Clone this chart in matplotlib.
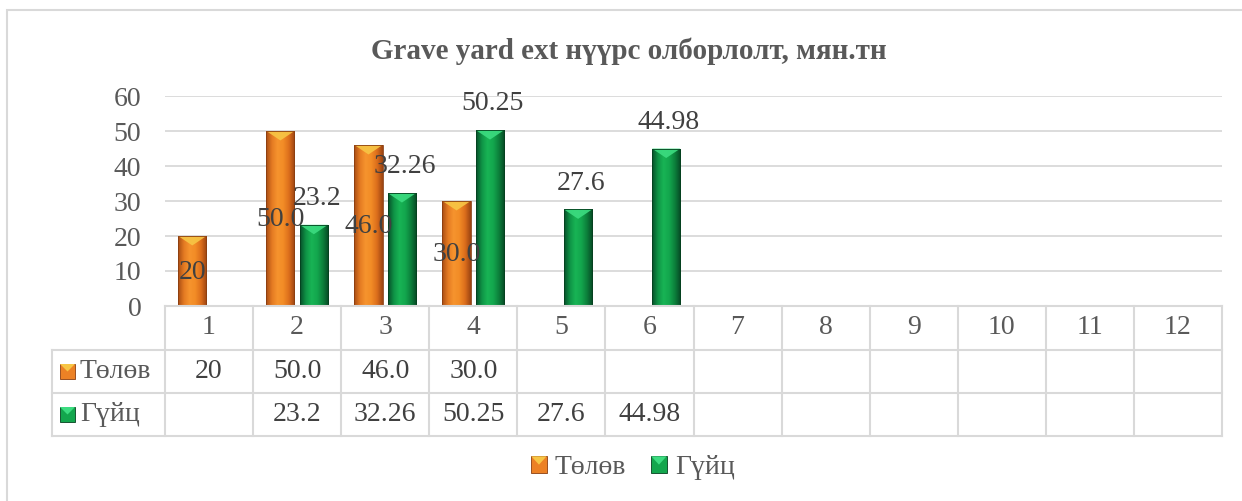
import matplotlib
matplotlib.use("Agg")
import matplotlib.pyplot as plt
import numpy as np
from matplotlib.colors import LinearSegmentedColormap
from matplotlib.patches import Rectangle, Polygon, Patch
from matplotlib.lines import Line2D
from matplotlib.transforms import blended_transform_factory
from matplotlib.legend_handler import HandlerPatch

plt.rcParams['font.family'] = ['Liberation Serif', 'DejaVu Serif']

# ---------------- data ----------------
title = "Grave yard ext нүүрс олборлолт, мян.тн"
categories = ["1", "2", "3", "4", "5", "6", "7", "8", "9", "10", "11", "12"]
series_names = ["Төлөв", "Гүйц"]
tolov = [20, 50.0, 46.0, 30.0, None, None, None, None, None, None, None, None]
tolov_text = ["20", "50.0", "46.0", "30.0", "", "", "", "", "", "", "", ""]
guits = [None, 23.2, 32.26, 50.25, 27.6, 44.98, None, None, None, None, None, None]
guits_text = ["", "23.2", "32.26", "50.25", "27.6", "44.98", "", "", "", "", "", ""]
yticks = [0, 10, 20, 30, 40, 50, 60]

# ---------------- layout ----------------
W, H = 1242, 501
fig = plt.figure(figsize=(W / 100, H / 100), dpi=100)
fig.patch.set_facecolor("white")

def fx(x):
    return x / W

def fy(y):
    return 1 - y / H

L, R, T, B = 165, 1222, 96, 306
ax = fig.add_axes([fx(L), fy(B), (R - L) / W, (B - T) / H])
ax.set_xlim(0.5, 12.5)
ax.set_ylim(0, 60)
for s in ax.spines.values():
    s.set_visible(False)
ax.set_xticks([])
ax.set_yticks(yticks)
ax.tick_params(axis="y", length=0, pad=17, labelsize=20, labelcolor="#595959")
ax.yaxis.grid(True, color="#d9d9d9", linewidth=1.3)
ax.set_axisbelow(True)

grid_c = "#d9d9d9"
txt_c = "#595959"
lab_c = "#404040"

# chart border
fig.add_artist(Rectangle((fx(7), fy(560)), fx(1300), 550 / H,
                         transform=fig.transFigure, fill=False,
                         edgecolor="#d9d9d9", linewidth=1.5))

# title
fig.text(fx(629), fy(51), title, ha="center", va="center", fontsize=21,
         fontweight="bold", color=txt_c)

# ---------------- bars ----------------
x = np.arange(1, 13)
bw = 0.32
off = 0.19

orange_cmap = LinearSegmentedColormap.from_list(
    "o", ["#a84c14", "#e47a22", "#f6942e", "#f28c26", "#dc6e1c", "#9c4412"])
green_cmap = LinearSegmentedColormap.from_list(
    "g", ["#07502a", "#0f9446", "#18b455", "#13a64d", "#0c7f3b", "#064824"])
grad = np.linspace(0, 1, 64).reshape(1, -1)

def draw_series(vals, xpos, cmap, tri_color, edge):
    vv = [v if v is not None else 0 for v in vals]
    bars = ax.bar(xpos, vv, width=bw, color="none", edgecolor="none", zorder=3)
    for b, v in zip(bars, vals):
        if v is None:
            continue
        x0, w, h = b.get_x(), b.get_width(), b.get_height()
        im = ax.imshow(grad, extent=[x0, x0 + w, 0, h], aspect="auto",
                       cmap=cmap, zorder=3, interpolation="bilinear")
        im.set_clip_path(b)
        tri = Polygon([[x0, h], [x0 + w, h], [x0 + w / 2, h - 2.7]],
                      closed=True, facecolor=tri_color, edgecolor="none",
                      zorder=4, alpha=0.9)
        ax.add_patch(tri)
        ax.add_patch(Rectangle((x0, 0), w, h, fill=False, edgecolor=edge,
                               linewidth=0.6, zorder=5))
    return bars

draw_series(tolov, x - off, orange_cmap, "#f7c645", "#8a3e10")
draw_series(guits, x + off, green_cmap, "#3cdc80", "#05401f")
ax.set_xlim(0.5, 12.5)
ax.set_ylim(0, 60)

# data labels
for xi, v, t in zip(x, tolov, tolov_text):
    if v is None:
        continue
    ax.annotate(t, (xi - off, v / 2), xytext=(0, -1), textcoords="offset points",
                ha="center", va="center", fontsize=20, color=lab_c, zorder=6)
for xi, v, t in zip(x, guits, guits_text):
    if v is None:
        continue
    ax.annotate(t, (xi + off, v), xytext=(2, 19), textcoords="offset points",
                ha="center", va="center", fontsize=20, color=lab_c, zorder=6)

# ---------------- data table ----------------
bt = blended_transform_factory(ax.transData, fig.transFigure)
rows_y = [306, 350, 393, 436]
TL = 52
lw = 1.5
fig.add_artist(Line2D([0.5, 12.5], [fy(306), fy(306)], transform=bt,
                      color=grid_c, linewidth=lw))
for yy in rows_y[1:]:
    fig.add_artist(Line2D([fx(TL), fx(R)], [fy(yy), fy(yy)],
                          transform=fig.transFigure, color=grid_c, linewidth=lw))
for k in range(13):
    fig.add_artist(Line2D([k + 0.5, k + 0.5], [fy(306), fy(436)], transform=bt,
                          color=grid_c, linewidth=lw))
fig.add_artist(Line2D([fx(TL), fx(TL)], [fy(350), fy(436)],
                      transform=fig.transFigure, color=grid_c, linewidth=lw))

for xi, c in zip(x, categories):
    fig.text(xi, fy(328), c, transform=bt, ha="center", va="center",
             fontsize=20, color=txt_c)
for xi, t in zip(x, tolov_text):
    if t:
        fig.text(xi, fy(371.5), t, transform=bt, ha="center", va="center",
                 fontsize=20, color=lab_c)
for xi, t in zip(x, guits_text):
    if t:
        fig.text(xi, fy(414.5), t, transform=bt, ha="center", va="center",
                 fontsize=20, color=lab_c)

key_cols = [("#ec8125", "#f7c645", "#8a3e10"), ("#13a64d", "#3cdc80", "#05401f")]

def key_box(xl, yc, kc, size=15):
    fig.add_artist(Rectangle((fx(xl), fy(yc + size / 2)), fx(size), size / H,
                             transform=fig.transFigure, facecolor=kc[0],
                             edgecolor=kc[2], linewidth=0.6))
    fig.add_artist(Polygon([[fx(xl), fy(yc - size / 2)],
                            [fx(xl + size), fy(yc - size / 2)],
                            [fx(xl + size / 2), fy(yc)]], closed=True,
                           transform=fig.transFigure, facecolor=kc[1],
                           edgecolor="none"))

for (yc, name, kc) in zip([371.5, 414.5], series_names, key_cols):
    key_box(60, yc, kc)
    fig.text(fx(80), fy(yc), name, ha="left", va="center", fontsize=20,
             color=txt_c)

# ---------------- legend ----------------
class BevelHandler(HandlerPatch):
    def __init__(self, tri_color, **kw):
        super().__init__(**kw)
        self.tri_color = tri_color

    def create_artists(self, legend, orig_handle, xdescent, ydescent, width,
                       height, fontsize, trans):
        rect = Rectangle((-xdescent, -ydescent), width, height,
                         facecolor=orig_handle.get_facecolor(),
                         edgecolor=orig_handle.get_edgecolor(), linewidth=0.6,
                         transform=trans)
        tri = Polygon([[-xdescent, -ydescent + height],
                       [-xdescent + width, -ydescent + height],
                       [-xdescent + width / 2, -ydescent + height / 2]],
                      closed=True, facecolor=self.tri_color,
                      edgecolor="none", transform=trans)
        return [rect, tri]

h1 = Patch(facecolor=key_cols[0][0], edgecolor=key_cols[0][2])
h2 = Patch(facecolor=key_cols[1][0], edgecolor=key_cols[1][2])
fig.legend([h1, h2], series_names, loc="center", bbox_to_anchor=(fx(633), fy(468)),
           ncol=2, frameon=False, fontsize=20, handlelength=0.55,
           handleheight=0.55, handletextpad=0.3, columnspacing=0.9,
           labelcolor=txt_c,
           handler_map={h1: BevelHandler(key_cols[0][1]),
                        h2: BevelHandler(key_cols[1][1])})

fig.savefig("out.png", dpi=100, facecolor="white")
